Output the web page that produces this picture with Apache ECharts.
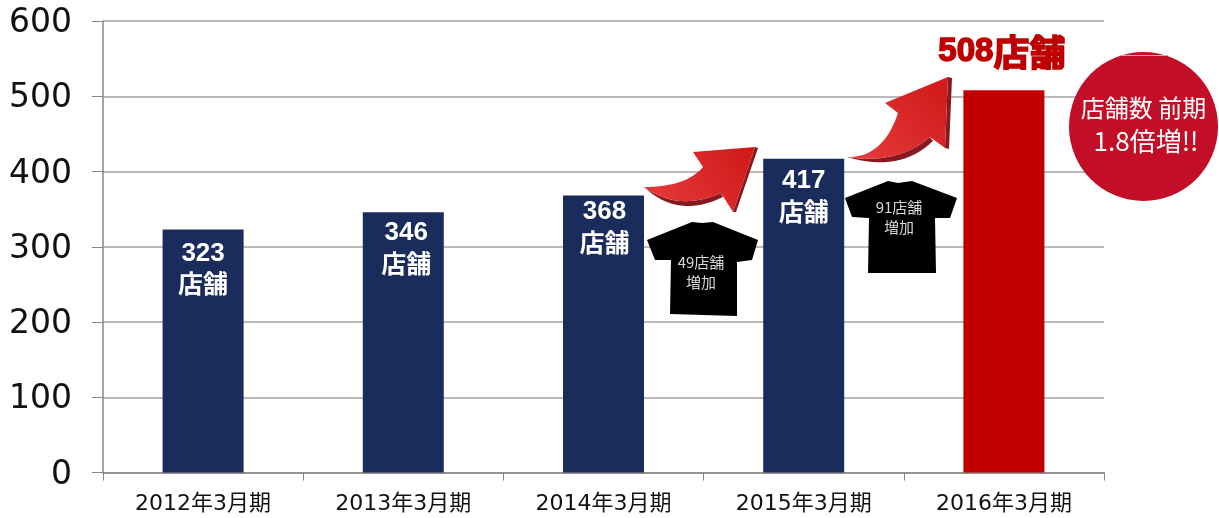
<!DOCTYPE html>
<html><head><meta charset="utf-8">
<style>html,body{margin:0;padding:0;background:#fff}#c{width:1219px;height:518px}</style>
<script src="https://cdn.jsdelivr.net/npm/echarts@6/dist/echarts.min.js"></script>
</head><body><div id="c"></div>
<script>
const categories = ['2012年3月期','2013年3月期','2014年3月期','2015年3月期','2016年3月期'];
const storeCounts = [323,346,368,417,508];
const barColors = ['#1a2c5b','#1a2c5b','#1a2c5b','#1a2c5b','#c00000'];
const yTicks = [0,100,200,300,400,500,600];
const labelNudges = [[0,3],[3,0],[1,-4.5],[0,1.5],[-2,2]];

const FONT = '"DejaVu Sans","Noto Sans CJK JP",sans-serif';
const CJK = '"Noto Sans CJK JP",sans-serif';
const LAT = '"Liberation Sans",sans-serif';
const arrowFill = {type:'linear',x:0,y:1,x2:1,y2:0,colorStops:[{offset:0,color:'#e63c3c'},{offset:1,color:'#d01818'}]};
const DARK = '#861a20';
const poly = (points, fill) => ({type:'polygon', z:10, shape:{points}, style:{fill}});
const txt = (x,y,text,size,fill) => ({type:'text', z:12, x, y, style:{text, fill, font:`${size}px ${CJK}`, align:'center', verticalAlign:'middle'}});
const curve = (a,c,b) => {
  const out=[];
  for(let i=0;i<=16;i++){const t=i/16,u=1-t;out.push([u*u*a[0]+2*u*t*c[0]+t*t*b[0],u*u*a[1]+2*u*t*c[1]+t*t*b[1]]);}
  return out;
};

const graphic = [
  // arrow 2014 -> 2015
  poly([...curve([644,187],[678,212],[721,193]),...curve([723,197],[678,219],[644,187])], DARK),
  poly([[755,147],[758,148],[736,212],[733,212]], DARK),
  poly([...curve([644,187],[686,187],[703,167]),[693,152],[755,147],[733,212],...curve([721,193],[678,212],[644,187])], arrowFill),
  // arrow 2015 -> 2016
  poly([...curve([847,157],[897,165],[930,137]),...curve([933,141],[900,173],[847,157])], DARK),
  poly([[948,77],[952,78],[949,149],[945,148]], DARK),
  poly([...curve([847,157],[883,158],[898,113]),[885,103],[948,77],[945,148],...curve([930,137],[897,165],[847,157])], arrowFill),
  // shirts
  poly([[647,240],[692,222],[702,223],[713,222],[758,240],[752,260],[737,262],[737,316],[670,314],[671,260],[655,260]], '#000'),
  poly([[845,198],[888,181],[898,183],[912,181],[957,198],[950,218],[935,218],[936,273],[868,273],[869,218],[852,217]], '#000'),
  txt(701,262,'49店舗',15,'#d8d8d8'),
  txt(701,282,'増加',15,'#d8d8d8'),
  txt(899,207,'91店舗',15,'#d8d8d8'),
  txt(899,227,'増加',15,'#d8d8d8'),
  // badge
  {type:'circle', z:11, shape:{cx:1143.5,cy:126.5,r:74.5}, style:{fill:'#c20e26'}},
  {type:'line', z:12, shape:{x1:1120,y1:55.5,x2:1168,y2:55.5}, style:{stroke:'#e8a0a8',lineWidth:1}},
  txt(1143.5,108,'店舗数 前期',24,'#ffffff'),
  txt(1146,141,'1.8倍増!!',26,'#ffffff')
];

const chart = echarts.init(document.getElementById('c'), null, {renderer:'canvas'});
chart.setOption({
  animation:false,
  backgroundColor:'#fff',
  grid:{left:103, right:115, top:21, bottom:45.5, containLabel:false},
  xAxis:{type:'category', data:categories, boundaryGap:true,
    axisLine:{lineStyle:{color:'#868686',width:1.5}},
    axisTick:{show:true,alignWithLabel:false,length:8,lineStyle:{color:'#868686',width:1}},
    axisLabel:{color:'#111',fontSize:22,fontFamily:FONT,margin:21}},
  yAxis:{type:'value', min:0, max:600, interval:100,
    axisLine:{show:true,lineStyle:{color:'#868686',width:1.5}},
    axisTick:{show:true,length:11,lineStyle:{color:'#868686',width:1}},
    splitLine:{lineStyle:{color:'#a3a3a3',width:1.5}},
    axisLabel:{color:'#111',fontSize:33,fontFamily:FONT,margin:31,verticalAlign:'top',lineHeight:5,
      formatter:v=>yTicks.includes(v)?String(v):''}},
  series:[{type:'bar', barWidth:81,
    data:storeCounts.map((v,i)=>({
      value:v,
      itemStyle:{color:barColors[i]},
      label: i<4 ? {show:true,position:'insideTop',distance:6,offset:labelNudges[i],color:'#fff',
                    formatter:`{d|${v}}\n{k|店舗}`,
                    rich:{d:{fontFamily:LAT,fontWeight:'bold',fontSize:26,lineHeight:30,color:'#fff'},
                          k:{fontFamily:CJK,fontWeight:'bold',fontSize:25,lineHeight:30,color:'#fff'}}}
                 : {show:true,position:'top',distance:22,offset:labelNudges[i],color:'#c00000',
                    formatter:`{d|${v}}{k|店舗}`,
                    rich:{d:{fontFamily:LAT,fontWeight:'bold',fontSize:33,color:'#c00000',textBorderColor:'#c00000',textBorderWidth:1.5},
                          k:{fontFamily:CJK,fontWeight:'bold',fontSize:36,color:'#c00000',textBorderColor:'#c00000',textBorderWidth:1.5}}}
    }))}],
  graphic:{elements:graphic}
});
</script></body></html>
